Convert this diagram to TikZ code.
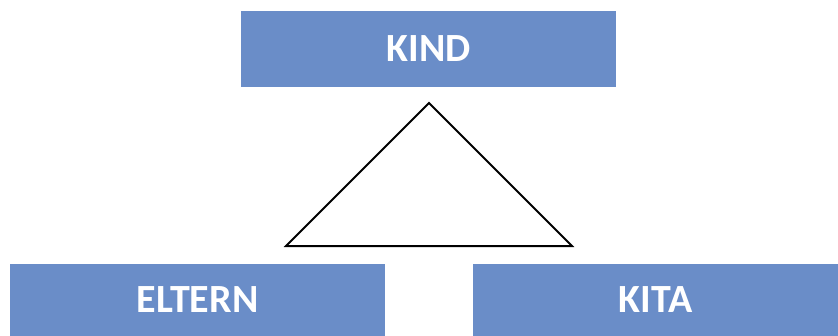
\documentclass[tikz,border=0pt]{standalone}
\usepackage{fontspec}
\setmainfont{Carlito}
\usepackage{tikz}
\definecolor{boxblue}{HTML}{6A8DC8}

\begin{document}
\begin{tikzpicture}[x=1pt, y=1pt,
    block/.style={rectangle, fill=boxblue, inner sep=0pt, minimum height=76pt, align=center, text=white, font=\fontsize{40}{44}\selectfont\bfseries},
    tri/.style={draw, line width=2pt, line join=miter}]
    \useasboundingbox (0,0) rectangle (838,-335);
    \node[block, minimum width=375pt] (kind) at (428.5,-49) {KIND};
    \node[block, minimum width=375pt, minimum height=72pt] (eltern) at (197.5,-300) {ELTERN};
    \node[block, minimum width=365pt, minimum height=72pt] (kita) at (655.5,-300) {KITA};

    \coordinate (top) at (429,-103);
    \coordinate (left) at (286,-246);
    \coordinate (right) at (572,-246);
    \draw[tri] (top) -- (right) -- (left) -- cycle;
\end{tikzpicture}
\end{document}
